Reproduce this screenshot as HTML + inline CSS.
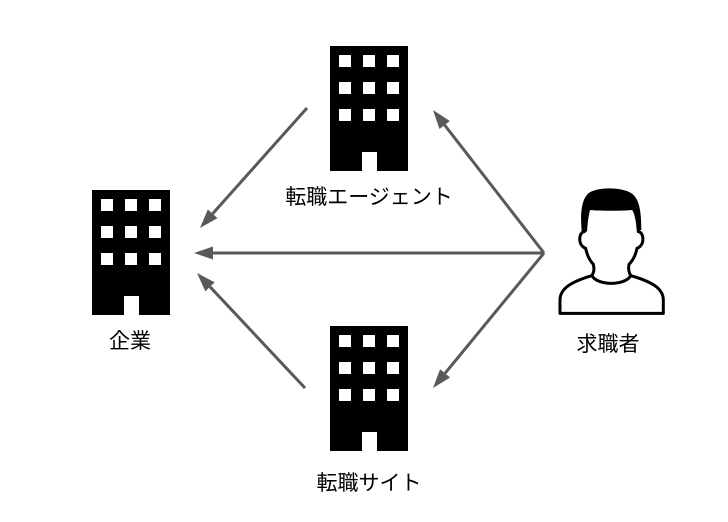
<!DOCTYPE html>
<html>
<head>
<meta charset="utf-8">
<style>
html,body{margin:0;padding:0;background:#fff;}
svg{display:block;}
text{font-family:"Liberation Sans","Noto Sans CJK JP",sans-serif;font-size:21px;fill:#000;}
</style>
</head>
<body>
<svg width="728" height="522" viewBox="0 0 728 522" xmlns="http://www.w3.org/2000/svg">
  <defs>
    <g id="bld">
      <rect x="0" y="0" width="78" height="125" fill="#000"/>
      <g fill="#fff">
        <rect x="9" y="9" width="12" height="12"/>
        <rect x="33" y="9" width="12" height="12"/>
        <rect x="57" y="9" width="12" height="12"/>
        <rect x="9" y="36" width="12" height="12"/>
        <rect x="33" y="36" width="12" height="12"/>
        <rect x="57" y="36" width="12" height="12"/>
        <rect x="9" y="63" width="12" height="12"/>
        <rect x="33" y="63" width="12" height="12"/>
        <rect x="57" y="63" width="12" height="12"/>
        <rect x="32" y="106" width="15" height="19"/>
      </g>
    </g>
  </defs>

  <!-- buildings -->
  <use href="#bld" x="330" y="46"/>
  <use href="#bld" x="330" y="326"/>
  <use href="#bld" x="92" y="190"/>

  <!-- connectors -->
  <g stroke="#595959" stroke-width="3" fill="none" stroke-linecap="butt">
    <line x1="307" y1="108" x2="212.6" y2="213.8"/>
    <line x1="544" y1="253" x2="212" y2="253"/>
    <line x1="305" y1="388" x2="210" y2="286.8"/>
    <line x1="544" y1="253" x2="444.6" y2="125"/>
    <line x1="544" y1="253" x2="445" y2="373.3"/>
  </g>
  <g fill="#595959">
    <polygon points="200,228 217.5,218.1 207.8,209.5"/>
    <polygon points="194,253 213,246.5 213,259.5"/>
    <polygon points="197,273 214.7,282.4 205.3,291.3"/>
    <polygon points="433,110 449.8,121 439.5,129"/>
    <polygon points="433,388 450.1,377.5 440.1,369.2"/>
  </g>

  <!-- person -->
  <g transform="translate(555,185) scale(0.3333)">
    <path d="M 15 385 L 325 385 L 325 345 C 325 310 290 290 228 272 C 220 262 220 250 222 238 C 238 222 243 205 246 190 C 260 185 266 170 263 155 C 261 145 255 140 250 140 L 250 100 C 250 40 88 40 88 100 L 88 140 C 83 140 77 145 75 155 C 72 170 78 185 92 190 C 95 205 100 222 115 238 C 118 250 118 262 110 272 C 50 290 15 310 15 345 Z" fill="#fff" stroke="#000" stroke-width="9" stroke-linejoin="round"/>
    <path d="M 112 274 C 130 302 208 302 226 274" fill="none" stroke="#000" stroke-width="9"/>
    <path d="M 80 138 C 76 90 78 45 100 25 C 125 5 200 5 230 25 C 250 40 259 70 259 135 L 245 135 C 243 110 240 90 232 75 C 200 78 140 78 105 75 C 100 95 98 115 96 140 Z" fill="#000"/>
  </g>

  <!-- labels -->
  <text x="369" y="204" text-anchor="middle">転職エージェント</text>
  <text x="130" y="348" text-anchor="middle">企業</text>
  <text x="608" y="351" text-anchor="middle">求職者</text>
  <text x="369" y="490" text-anchor="middle">転職サイト</text>
</svg>
</body>
</html>
